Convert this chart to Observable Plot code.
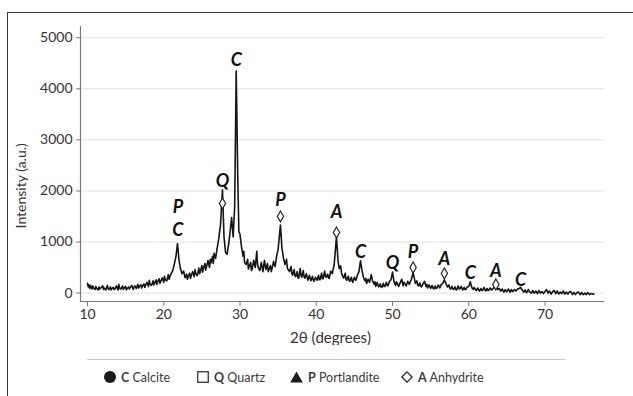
<!DOCTYPE html>
<html>
<head>
<meta charset="utf-8">
<script src="https://cdn.jsdelivr.net/npm/d3@7"></script>
<script src="https://cdn.jsdelivr.net/npm/@observablehq/plot@0.6"></script>
<style>
  html, body { margin: 0; padding: 0; background: #fff; }
  body { width: 633px; height: 396px; position: relative; overflow: hidden; font-family: Lato, "Open Sans", sans-serif; }
  #frame { position: absolute; left: 7px; top: 12px; width: 640px; height: 400px; border-left: 1.5px solid #3a3a3a; border-top: 1.5px solid #3a3a3a; pointer-events: none; }
  #chart { position: absolute; left: 0; top: 0; }
  #rule { position: absolute; left: 87px; top: 359px; width: 478px; border-top: 1px solid #c8c8c8; }
  #legend { position: absolute; left: 0; top: 367px; width: 633px; height: 20px; font-size: 12.5px; color: #3a3a3a; }
  .item { position: absolute; top: 0; display: flex; align-items: center; gap: 5px; white-space: nowrap; height: 20px; }
  .item b { font-weight: 700; }
</style>
</head>
<body>
<div id="chart"></div>
<div id="frame"></div>
<div id="rule"></div>
<div id="legend"></div>
<script>
// ---- data: XRD scan [2θ (degrees), intensity (a.u.)] ----
const scan = [
  [10.0,190],[10.1,120],[10.2,160],[10.3,90],[10.4,150],[10.6,80],[10.7,140],[10.8,100],
  [11.0,70],[11.1,130],[11.2,90],[11.4,60],[11.5,120],[11.6,80],[11.8,110],
  [12.0,140],[12.1,70],[12.2,100],[12.4,60],[12.6,150],[12.7,90],[12.8,70],
  [13.0,120],[13.1,60],[13.2,90],[13.4,110],[13.5,70],[13.6,80],[13.8,140],
  [14.0,60],[14.1,170],[14.2,100],[14.4,80],[14.6,140],[14.7,70],[14.8,100],
  [15.0,130],[15.1,60],[15.2,90],[15.4,120],[15.5,80],[15.6,110],[15.8,150],
  [16.0,70],[16.1,120],[16.2,140],[16.4,90],[16.6,170],[16.7,100],[16.8,130],
  [17.0,160],[17.1,100],[17.2,140],[17.4,180],[17.5,110],[17.6,150],[17.8,210],
  [18.0,130],[18.1,250],[18.2,170],[18.4,150],[18.6,240],[18.7,160],[18.8,190],
  [19.0,260],[19.1,170],[19.2,220],[19.4,280],[19.5,190],[19.6,230],[19.8,300],
  [20.0,210],[20.1,330],[20.2,260],[20.4,240],[20.6,360],[20.7,270],[20.8,320],
  [21.0,390],[21.2,450],[21.4,580],[21.6,720],[21.8,970],
  [22.0,640],[22.2,470],[22.4,380],[22.6,430],[22.8,300],
  [23.0,370],[23.1,270],[23.2,320],[23.4,390],[23.5,290],[23.6,340],[23.8,420],
  [24.0,320],[24.1,460],[24.2,380],[24.4,340],[24.6,490],[24.7,380],[24.8,420],
  [25.0,540],[25.1,410],[25.2,480],[25.4,580],[25.5,450],[25.6,510],[25.8,640],
  [26.0,500],[26.1,660],[26.2,590],[26.4,720],[26.5,580],[26.6,780],[26.8,680],
  [27.0,880],[27.2,1050],[27.45,1350],[27.7,2020],[27.9,1100],
  [28.1,800],[28.3,760],[28.5,950],[28.7,1200],[28.9,1480],
  [29.1,1100],[29.3,1700],[29.5,4350],[29.7,2300],[29.85,1200],
  [30.0,1150],[30.2,900],[30.4,720],[30.5,820],[30.6,600],[30.8,560],
  [31.0,660],[31.1,470],[31.2,520],[31.4,600],[31.5,440],[31.6,480],[31.8,640],
  [32.0,500],[32.2,820],[32.3,560],[32.4,500],[32.6,440],[32.8,600],
  [33.0,420],[33.1,520],[33.2,640],[33.4,460],[33.6,580],[33.7,420],[33.8,460],
  [34.0,540],[34.1,420],[34.2,480],[34.4,620],[34.6,520],[34.8,720],
  [35.0,860],[35.3,1330],[35.5,880],[35.7,680],[35.9,560],
  [36.1,660],[36.2,500],[36.3,460],[36.5,420],[36.7,520],[36.8,380],[36.9,350],
  [37.1,460],[37.2,340],[37.3,320],[37.5,420],[37.6,300],[37.7,290],[37.9,480],
  [38.0,350],[38.1,310],[38.3,440],[38.4,320],[38.5,290],[38.7,380],[38.9,250],
  [39.1,350],[39.2,280],[39.3,240],[39.5,330],[39.6,260],[39.7,230],[39.9,310],
  [40.1,250],[40.3,350],[40.4,260],[40.5,260],[40.7,390],[40.8,280],[40.9,280],
  [41.1,430],[41.2,330],[41.3,310],[41.5,370],[41.6,290],[41.7,290],[41.9,430],
  [42.1,380],[42.35,560],[42.65,1100],[42.85,640],[43.0,480],
  [43.2,530],[43.3,400],[43.4,350],[43.6,290],[43.8,390],[43.9,280],[44.0,250],
  [44.2,330],[44.3,250],[44.4,230],[44.6,310],[44.7,240],[44.8,210],[45.0,310],
  [45.2,250],[45.4,350],[45.6,420],[45.8,630],[46.0,440],
  [46.2,300],[46.4,240],[46.5,290],[46.6,190],[46.8,270],[47.0,210],
  [47.2,360],[47.4,230],[47.6,170],[47.7,220],[47.8,130],[48.0,210],
  [48.1,150],[48.2,120],[48.4,180],[48.5,120],[48.6,110],[48.8,190],[48.9,130],[49.0,130],
  [49.2,210],[49.3,150],[49.4,140],[49.6,230],[49.8,260],[50.0,410],
  [50.2,220],[50.4,150],[50.5,220],[50.6,200],[50.8,130],[51.0,200],
  [51.2,270],[51.4,140],[51.5,210],[51.6,190],[51.8,140],[52.0,230],
  [52.2,170],[52.45,260],[52.7,400],[52.9,260],[53.0,190],
  [53.2,240],[53.3,160],[53.4,140],[53.6,200],[53.7,130],[53.8,120],[54.0,180],
  [54.2,230],[54.4,130],[54.5,170],[54.6,100],[54.8,160],[55.0,90],
  [55.2,150],[55.3,100],[55.4,80],[55.6,140],[55.7,90],[55.8,90],[56.0,160],
  [56.2,100],[56.4,170],[56.6,190],[56.8,260],[57.0,190],
  [57.2,120],[57.4,160],[57.5,100],[57.6,80],[57.8,130],[57.9,80],[58.0,70],
  [58.2,120],[58.3,70],[58.4,60],[58.6,140],[58.7,90],[58.8,80],[59.0,130],
  [59.2,60],[59.4,110],[59.5,70],[59.6,70],[59.8,120],[60.0,130],
  [60.2,220],[60.4,110],[60.6,70],[60.7,110],[60.8,90],[61.0,50],
  [61.2,100],[61.3,60],[61.4,40],[61.6,90],[61.7,50],[61.8,50],[62.0,110],
  [62.2,40],[62.4,90],[62.5,50],[62.6,50],[62.8,100],[63.0,60],
  [63.25,100],[63.55,130],[63.8,70],[64.0,90],[64.2,40],
  [64.4,80],[64.5,40],[64.6,20],[64.8,70],[64.9,30],[65.0,30],[65.2,80],
  [65.4,20],[65.6,70],[65.7,30],[65.8,30],[66.0,70],[66.2,40],
  [66.4,80],[66.6,90],[66.8,110],[67.0,60],[67.2,20],
  [67.4,60],[67.5,20],[67.6,10],[67.8,70],[68.0,20],[68.2,0],
  [68.4,50],[68.5,10],[68.6,0],[68.8,40],[69.0,-10],[69.2,50],
  [69.4,0],[69.6,30],[69.8,-10],[70.0,30],[70.2,70],
  [70.4,0],[70.6,40],[70.8,-20],[71.0,30],[71.2,50],
  [71.4,-10],[71.6,40],[71.8,-20],[72.0,20],[72.2,-10],
  [72.4,40],[72.6,-20],[72.8,20],[73.0,-20],[73.2,20],
  [73.4,30],[73.6,-30],[73.8,10],[74.0,-30],[74.2,10],
  [74.4,20],[74.6,-30],[74.8,10],[75.0,-30],[75.2,0],
  [75.4,-30],[75.6,10],[75.8,-30],[76.0,-10],[76.4,-20]
];

// peak letters (phase codes) placed above the peaks
const labelX    = [29.5, 27.7, 21.85, 21.85, 35.3, 42.65, 45.8, 50.0, 52.7, 56.8, 60.2, 63.55, 66.8];
const labelY    = [4550, 2190, 1680, 1230, 1813, 1578, 795, 580, 795, 658, 384, 423, 247];
const labelText = ["C", "Q", "P", "C", "P", "A", "C", "Q", "P", "A", "C", "A", "C"];

// open diamond markers (Anhydrite)
const diamondX = [27.7, 35.3, 42.65, 52.7, 56.8, 63.55];
const diamondY = [1755, 1500, 1187, 501, 384, 168];

const xTicks = [10, 20, 30, 40, 50, 60, 70];
const yTicks = [0, 1000, 2000, 3000, 4000, 5000];
const xTitle = "2θ (degrees)";
const yTitle = "Intensity (a.u.)";

// legend
const legendSymbols = ["circle", "square", "triangle", "diamond"];
const legendCodes   = ["C", "Q", "P", "A"];
const legendNames   = ["Calcite", "Quartz", "Portlandite", "Anhydrite"];

// ---- chart ----
const xDomain = [9.08, 77.8];
const yDomain = [-165, 5220];
const labels = labelText.map((t, i) => ({x: labelX[i], y: labelY[i], t}));
const diamonds = diamondX.map((x, i) => ({x, y: diamondY[i]}));

const chart = Plot.plot({
  width: 633,
  height: 345,
  marginLeft: 80,
  marginRight: 29,
  marginTop: 26,
  marginBottom: 44,
  style: {fontFamily: "Lato, 'Open Sans', sans-serif", fontSize: "13px", color: "#333", background: "transparent"},
  x: {domain: xDomain},
  y: {domain: yDomain},
  marks: [
    Plot.ruleY(yTicks, {stroke: "#e0e0e0", strokeWidth: 1}),
    Plot.line(scan, {x: d => d[0], y: d => d[1], stroke: "#151515", strokeWidth: 1.6}),
    Plot.ruleX([xDomain[0]], {stroke: "#7a7a7a", strokeWidth: 1.2}),
    Plot.ruleY([yDomain[0]], {stroke: "#7a7a7a", strokeWidth: 1.2}),
    Plot.axisY(yTicks, {tickSize: 4, tickPadding: 4, fontSize: 14, label: null, stroke: "#7a7a7a", tickFormat: d => String(d)}),
    Plot.axisX(xTicks, {tickSize: 5, tickPadding: 3, fontSize: 14, label: null, stroke: "#7a7a7a", tickFormat: d => String(d)}),
    Plot.text([yTitle], {x: xDomain[0], y: 2100, text: d => d, rotate: -90, dx: -59, fontSize: 14, fill: "#333"}),
    Plot.text([xTitle], {x: 41.87, y: yDomain[0], text: d => d, dy: 37, fontSize: 15, fill: "#333"}),
    Plot.dot(diamonds, {x: "x", y: "y", symbol: "diamond", r: 3.3, fill: "white", stroke: "#222", strokeWidth: 1.2}),
    Plot.text(labels, {x: "x", y: "y", text: "t", fontSize: 18, fontWeight: "bold", fontStyle: "italic", fill: "#111"})
  ]
});
document.getElementById("chart").appendChild(chart);

// ---- legend (HTML, below the SVG) ----
const symbolSvg = {
  circle: '<svg width="12" height="12"><circle cx="6" cy="6" r="6" fill="#1a1a1a"/></svg>',
  square: '<svg width="12" height="12"><rect x="0.75" y="0.75" width="10.5" height="10.5" fill="none" stroke="#222" stroke-width="1.2"/></svg>',
  triangle: '<svg width="13" height="12"><path d="M6.5 0.5 L12.8 11.5 L0.2 11.5 Z" fill="#1a1a1a"/></svg>',
  diamond: '<svg width="12" height="12"><path d="M6 0.8 L11.2 6 L6 11.2 L0.8 6 Z" fill="none" stroke="#222" stroke-width="1.2"/></svg>'
};
const legendLeft = [104, 197, 290, 401];
const legend = document.getElementById("legend");
legendSymbols.forEach((s, i) => {
  const item = document.createElement("div");
  item.className = "item";
  item.style.left = legendLeft[i] + "px";
  item.innerHTML = symbolSvg[s] + "<span><b>" + legendCodes[i] + "</b> " + legendNames[i] + "</span>";
  legend.appendChild(item);
});
</script>
</body>
</html>
